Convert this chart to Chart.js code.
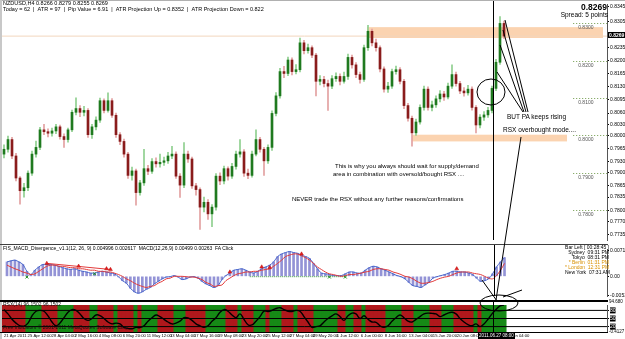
<!DOCTYPE html>
<html><head><meta charset="utf-8">
<script src="https://cdn.jsdelivr.net/npm/chart.js@4.4.1/dist/chart.umd.min.js"></script>
<style>
html,body{margin:0;padding:0;background:#fff;}
#wrap{position:relative;width:625px;height:339px;overflow:hidden;background:#fff;font-family:"Liberation Sans",Arial,sans-serif;}
canvas{position:absolute;left:0;}
.t{position:absolute;white-space:nowrap;color:#000;line-height:1;}
.sep{position:absolute;background:#000;}
</style></head><body>
<div id="wrap">
<canvas id="cMain" width="625" height="244" style="top:0;width:625px;height:244px"></canvas>
<canvas id="cMacd" width="625" height="57" style="top:244px;width:625px;height:57px"></canvas>
<canvas id="cRsx" width="625" height="38" style="top:301px;width:625px;height:38px"></canvas>

<div class="sep" style="left:0;top:0;width:625px;height:1px;background:#b0b0b0"></div>
<div class="sep" style="left:0;top:0;width:2px;height:339px;background:#c8c8c8"></div>
<div class="sep" style="left:0;top:244px;width:608px;height:1px;background:#404040"></div>
<div class="sep" style="left:0;top:300px;width:608px;height:2px"></div>
<div class="sep" style="left:0;top:332px;width:608px;height:1px"></div>

<div class="t" style="left:3px;top:1px;font-size:5.5px">NZDUSD,H4 0.8266 0.8279 0.8255 0.8269</div>
<div class="t" style="left:3px;top:7px;font-size:5.5px">Today = 62 &nbsp;| &nbsp;ATR = 97 &nbsp;| &nbsp;Pip Value = 6.91 &nbsp;| &nbsp;ATR Projection Up = 0.8352 &nbsp;| &nbsp;ATR Projection Down = 0.822</div>
<div class="t" style="right:18px;top:3px;font-size:8.5px;font-weight:bold">0.8269</div>
<div class="t" style="right:17px;top:12px;font-size:6.5px">Spread: 5 points</div>

<div class="t" style="left:335px;top:163px;font-size:6px">This is why you always should wait for supply/demand</div>
<div class="t" style="left:333px;top:171px;font-size:6px">area in combination with oversold/bought RSX ....</div>
<div class="t" style="left:292px;top:196px;font-size:6px">NEVER trade the RSX without any further reasons/confirmations</div>
<div class="t" style="left:507px;top:114px;font-size:6.5px">BUT PA keeps rising</div>
<div class="t" style="left:503px;top:127px;font-size:6.5px">RSX overbought mode....</div>

<div class="t" style="left:3px;top:246px;font-size:5px">FIS_MACD_Divergence_v1.1(12, 26, 9) 0.004996 0.002617 &nbsp;MACD(12,26,9) 0.00499 0.00263 &nbsp;FA Click</div>
<div class="t" style="left:565px;top:245px;font-size:5px;text-align:right;width:44px;line-height:5px">
Bar Left [ 00:28:45 ]<br>Sydney &nbsp;09:31 PM<br>Tokyo &nbsp;08:31 PM<br><span style="color:#d89000">* Berlin &nbsp;01:31 PM</span><br><span style="color:#d89000">* London &nbsp;12:31 PM</span><br>New York &nbsp;07:31 AM</div>
<div class="t" style="left:3px;top:302px;font-size:5px;color:#111">RSX(14) 96.1502 96.1502</div>
<div class="t" style="left:3px;top:325px;font-size:5px;color:#111">Free Indicators &copy; 2001-2011 MetaQuotes Software Corp.</div>
<div class="t" style="left:609px;top:300px;font-size:4.5px">94.680</div>
<div class="t" style="left:609px;top:330px;font-size:4.5px">-0.4127</div>
<div class="t" style="left:478px;top:333px;font-size:4.5px;background:#000;color:#fff;padding:0.5px 1px">2011.06.27 08:00</div>

<svg width="625" height="339" style="position:absolute;left:0;top:0" fill="none" stroke="#000" stroke-width="1">
<ellipse cx="491" cy="92" rx="14" ry="13"/>
<line x1="497" y1="72" x2="523" y2="112"/>
<line x1="500" y1="45" x2="524" y2="112"/>
<line x1="503" y1="30" x2="526" y2="112"/>
<line x1="505" y1="20" x2="528" y2="112"/>
<line x1="521" y1="137" x2="496" y2="300"/>
<line x1="482" y1="280" x2="497" y2="301"/>
<line x1="503" y1="297" x2="522" y2="290"/>
<ellipse cx="499" cy="303" rx="19" ry="8"/>
</svg>
</div>
<script>
// ---------- DATA (prices in pips: value/10000) ----------
const candleOpen = [7950,7963,7989,7945,7886,7852,7860,7899,7950,7968,
8015,8010,8006,8012,8023,7997,7989,8015,8062,8072,
8062,8067,8002,8023,8041,8093,8067,8093,8054,8002,
7984,7950,7893,7905,7847,7873,7911,7904,7930,7924,
7928,7932,7945,7950,7891,7867,7950,7937,7865,7855,
7808,7821,7790,7808,7891,7878,7911,7891,7917,7950,
7956,7899,7893,7950,7989,7963,7932,7968,8059,8106,
8171,8166,8202,8171,8176,8248,8227,8235,8215,8145,
8150,8139,8132,8152,8158,8145,8158,8209,8189,8163,
8150,8235,8279,8248,8235,8178,8124,8132,8171,8176,
8145,8080,8046,8007,8036,8075,8124,8075,8082,8098,
8111,8103,8132,8163,8139,8119,8114,8124,8075,8028,
8049,8055,8067,8126,8196,8300];
const candleHigh = [7975,7998,7995,7952,7890,7872,7905,7958,7985,8022,
8030,8018,8020,8030,8028,8004,8020,8068,8101,8080,
8078,8072,8030,8050,8100,8098,8114,8099,8060,8008,
7990,7955,7915,7910,7880,7963,7920,7938,7940,7950,
7942,7955,7971,7956,7898,7981,7958,7942,7872,7860,
7835,7828,7815,7898,7900,7918,7916,7925,7958,7989,
7962,7910,7958,8015,7995,7968,7975,8066,8115,8180,
8185,8210,8208,8190,8261,8255,8245,8240,8220,8160,
8158,8148,8160,8168,8165,8170,8218,8215,8195,8170,
8242,8295,8285,8258,8240,8184,8142,8178,8186,8182,
8150,8086,8052,8044,8082,8132,8130,8092,8106,8120,
8118,8140,8189,8170,8145,8128,8134,8130,8080,8056,
8064,8075,8132,8204,8318,8306];
const candleLow = [7940,7955,7938,7878,7816,7835,7852,7893,7942,7962,
8002,7996,7998,8005,7990,7968,7982,8010,8055,8050,
8052,7995,7992,8015,8035,8060,8062,8048,7995,7975,
7942,7885,7880,7813,7840,7866,7895,7898,7915,7915,
7920,7925,7938,7885,7834,7860,7928,7858,7840,7748,
7795,7775,7756,7800,7868,7870,7880,7885,7910,7942,
7890,7884,7888,7945,7955,7893,7925,7960,8052,8100,
8155,8160,8162,8165,8170,8218,8220,8208,8106,8135,
8130,8067,8125,8145,8135,8140,8150,8180,8155,8140,
8145,8228,8240,8226,8170,8116,8115,8126,8164,8138,
8072,8038,7971,8000,8030,8068,8068,8066,8075,8090,
8094,8098,8126,8132,8112,8105,8108,8068,8007,8020,
8040,8048,8060,8120,8190,8260];
const candleClose = [7963,7989,7945,7886,7852,7860,7899,7950,7968,8015,
8010,8006,8012,8023,7997,7989,8015,8062,8072,8062,
8067,8002,8023,8041,8093,8067,8093,8054,8002,7984,
7950,7893,7905,7847,7873,7911,7904,7930,7924,7928,
7932,7945,7950,7891,7867,7950,7937,7865,7855,7808,
7821,7790,7808,7891,7878,7911,7891,7917,7950,7956,
7899,7893,7950,7989,7963,7932,7968,8059,8106,8171,
8166,8202,8171,8176,8248,8227,8235,8215,8145,8150,
8139,8132,8152,8158,8145,8158,8209,8189,8163,8150,
8235,8279,8248,8235,8178,8124,8132,8171,8176,8145,
8080,8046,8007,8036,8075,8124,8075,8082,8098,8111,
8103,8132,8163,8139,8119,8114,8124,8075,8028,8049,
8055,8067,8126,8196,8300,8266];
// MACD values in units of 1e-4
const macdHist = [40,43,45,40,33,14,5,17,26,33,
33,33,31,28,24,21,19,21,17,14,
12,9,9,12,14,12,9,7,-1,-12,
-19,-33,-43,-47,-43,-36,-31,-21,-14,-7,
-2,-1,2,-2,-9,-7,-2,-1,-5,-14,
-21,-26,-31,-26,-9,2,9,17,19,21,
17,12,9,14,21,26,31,40,55,62,
66,69,66,64,59,55,50,36,21,9,
7,5,2,2,2,7,12,12,9,9,
17,24,28,26,21,17,12,7,2,-1,
-7,-17,-26,-28,-31,-24,-17,-5,-1,2,
5,9,14,14,12,12,9,5,-5,-14,
-12,-7,7,26,40,52];
const macdSignal = [31,26,21,17,12,9,5,7,14,21,
28,31,31,28,28,26,24,24,21,21,
19,17,17,14,14,12,12,9,5,0,
-7,-12,-19,-24,-28,-31,-28,-26,-19,-14,
-7,-5,0,0,0,-1,-2,-2,-5,-9,
-17,-21,-28,-26,-24,-12,-5,2,7,9,
12,12,14,14,17,19,21,28,36,45,
55,59,62,62,57,52,45,36,26,19,
12,7,5,2,0,2,5,5,7,9,
12,14,19,21,21,19,17,12,9,5,
0,-2,-7,-14,-19,-19,-17,-14,-9,-5,
-2,0,5,9,12,12,12,9,7,5,
0,-5,-7,2,17,36];
const macdUpArrows = [[10,36],[18,28],[25,21],[26,19],[56,12],[64,26],[66,24],[74,62],[113,21]];
const macdDownArrows = [[5,-2],[22,7],[81,-2],[85,-2]];
const rsxValues = [83,67,47,33,23,22,33,60,77,80,
77,60,37,23,33,53,73,83,80,67,
50,43,50,63,61,50,37,30,33,30,
17,13,12,17,16,23,40,53,63,57,
47,37,30,33,40,53,52,43,30,23,
17,23,40,53,73,83,77,63,53,67,
47,27,26,40,57,77,76,80,87,90,
83,77,76,80,77,57,37,17,20,23,
37,50,60,67,57,43,60,70,67,50,
60,47,37,36,23,17,23,40,53,63,
53,40,37,47,57,67,70,69,67,57,
63,70,73,67,50,37,27,23,30,20,
30,47,67,83,97,100];
const rsxLevels = [80,50,20];
const priceTicks = [0.8345,0.8305,0.8235,0.8200,0.8165,0.8130,0.8095,0.8060,0.8030,0.8000,0.7965,0.7930,0.7900,0.7865,0.7835,0.7800,0.7770,0.7735];
const roundLevels = [0.8300,0.8200,0.8100,0.8000,0.7900,0.7800];
const bidPrice = 0.8266;
const lastPrice = 0.8269;
const zones = [{from:90.75,to:149.75,hi:0.8290,lo:0.8261},{from:102,to:140.75,hi:0.8002,lo:0.7984}];
const crossBar = 122.25;
const timeLabels = ["21 Apr 2011","25 Apr 12:00","28 Apr 04:00","2 May 16:00","4 May 08:00","6 May 20:00","11 May 12:00","13 May 04:00","17 May 16:00","19 May 08:00","23 May 20:00","25 May 12:00","27 May 04:00","29 May 20:00","1 Jun 12:00","6 Jun 00:00","8 Jun 16:00","13 Jun 04:00","15 Jun 20:00","20 Jun 08:00","23 Jun 00:00","28 Jun 04:00"];
const timeLabelBars = [0,5.9,11.9,17.7,23.7,29.7,35.7,41.5,47.5,53.5,59.5,65.5,71.5,77.2,83.2,89.2,95.2,101.2,107.2,113.2,119,125.3];
const macdAxis = [0.00712,0,-0.0053];
const rsxAxis = [80,50,20];

// ---------- CHARTS ----------
const X_MIN = -0.5, X_MAX = 150.75;
const F = "'Liberation Sans', Arial, sans-serif";
Chart.defaults.font.family = F;
Chart.defaults.animation = false;
const P = v => v/10000;
const idx = candleClose.map((_, i) => i);
const bull = i => candleClose[i] >= candleOpen[i];

const crossPlugin = {id:'cross', afterDatasetsDraw(c){
  const x = Math.round(c.scales.x.getPixelForValue(crossBar)) + 0.5, ctx = c.ctx;
  ctx.save(); ctx.strokeStyle = '#000'; ctx.lineWidth = 1;
  ctx.beginPath(); ctx.moveTo(x, 0); ctx.lineTo(x, c.chartArea.bottom); ctx.stroke(); ctx.restore();
}};
const zonePlugin = {id:'zones', beforeDatasetsDraw(c){
  const xs = c.scales.x, ys = c.scales.y, ctx = c.ctx;
  ctx.save(); ctx.fillStyle = '#fbd3b0';
  zones.forEach(z => {
    const x1 = xs.getPixelForValue(z.from), x2 = xs.getPixelForValue(z.to);
    const y1 = ys.getPixelForValue(z.hi), y2 = ys.getPixelForValue(z.lo);
    ctx.fillRect(x1, y1, x2 - x1, y2 - y1);
  });
  ctx.restore();
}};
const levelPlugin = {id:'levels', afterDatasetsDraw(c){
  const xs = c.scales.x, ys = c.scales.y, ctx = c.ctx;
  ctx.save();
  const x1 = xs.getPixelForValue(142.3), x2 = c.chartArea.right;
  roundLevels.forEach(p => {
    const y = Math.round(ys.getPixelForValue(p)) + 0.5;
    ctx.strokeStyle = '#6f9a4a'; ctx.setLineDash([1, 2]); ctx.lineWidth = 1;
    ctx.beginPath(); ctx.moveTo(x1, y); ctx.lineTo(x2, y); ctx.stroke();
    ctx.setLineDash([]); ctx.fillStyle = '#555'; ctx.font = '5px ' + F;
    ctx.textBaseline = 'top'; ctx.fillText(p.toFixed(4), x1 + 5, y + 2);
  });
  const y = ys.getPixelForValue(lastPrice);
  ctx.fillStyle = '#000'; ctx.fillRect(c.chartArea.right + 1, y - 3, 17, 6);
  ctx.fillStyle = '#fff'; ctx.font = 'bold 5px ' + F; ctx.textBaseline = 'middle';
  ctx.fillText(lastPrice.toFixed(4), c.chartArea.right + 2, y + 0.5);
  ctx.restore();
}};
const timeAxisPlugin = {id:'timeAxis', afterDraw(c){
  const xs = c.scales.x, ctx = c.ctx;
  ctx.save(); ctx.fillStyle = '#000'; ctx.font = '4.2px ' + F; ctx.textBaseline = 'top'; ctx.textAlign = 'left';
  timeLabelBars.forEach((v, i) => { ctx.fillText(timeLabels[i], xs.getPixelForValue(v), c.chartArea.bottom + 2); });
  ctx.restore();
}};

const xLinear = {type:'linear', min:X_MIN, max:X_MAX, offset:false, display:false};
const yRight = (extra) => Object.assign({position:'right', afterFit: s => { s.width = 18; },
  grid:{drawOnChartArea:false, tickLength:2, color:'#000'}, border:{display:true, color:'#555'},
  ticks:{font:{size:5}, color:'#000', padding:1, autoSkip:false}}, extra);

new Chart(document.getElementById('cMain'), {
  type:'bar',
  data:{datasets:[
    {type:'line', data:[{x:X_MIN,y:bidPrice},{x:X_MAX,y:bidPrice}], borderColor:'#f2d6bd', borderWidth:1, pointRadius:0, order:5},
    {label:'wick', data: idx.map(i => ({x:i, y:[P(candleLow[i]), P(candleHigh[i])]})),
      backgroundColor: idx.map(i => bull(i) ? '#8fcf8f' : '#e3a1a1'), barThickness:1, grouped:false, order:2},
    {label:'body', data: idx.map(i => ({x:i, y:[P(candleOpen[i]), P(candleClose[i])]})),
      backgroundColor: idx.map(i => bull(i) ? '#1f7a1f' : '#8a1c1c'), barThickness:2, minBarLength:1, grouped:false, order:1}
  ]},
  options:{responsive:false, animation:false, devicePixelRatio:1,
    layout:{padding:{left:2, top:0, bottom:0, right:0}},
    plugins:{legend:{display:false}, tooltip:{enabled:false}},
    scales:{x:xLinear,
      y:yRight({min:0.7720, max:0.8352,
        afterBuildTicks: s => { s.ticks = priceTicks.map(v => ({value:v})); },
        ticks:{font:{size:5}, color:'#000', padding:1, autoSkip:false, callback: v => v.toFixed(4)}})}
  },
  plugins:[zonePlugin, levelPlugin, crossPlugin]
});

const pts = arr => arr.map((v, i) => ({x:i, y:v/10000}));
new Chart(document.getElementById('cMacd'), {
  type:'bar',
  data:{datasets:[
    {data: pts(macdHist), backgroundColor:'#9393d6', barThickness:2, grouped:false, order:4},
    {type:'line', data: pts(macdHist), borderColor:'#4666cc', borderWidth:1, pointRadius:0, tension:0.3, order:3},
    {type:'line', data: pts(macdSignal), borderColor:'#e23a3a', borderWidth:1, pointRadius:0, tension:0.3, order:2},
    {type:'line', data:[macdUpArrows[0],macdUpArrows[3]].map(a => ({x:a[0], y:a[1]/10000})), borderColor:'#e23a3a', borderWidth:1, pointRadius:0, order:2},
    {type:'line', data:[{x:61,y:-0.0001},{x:85,y:-0.0001}], borderColor:'#3c9a3c', borderDash:[1,1], borderWidth:1, pointRadius:0, order:2},
    {type:'scatter', data: macdUpArrows.map(a => ({x:a[0], y:a[1]/10000})), pointStyle:'triangle', pointRadius:2.2, backgroundColor:'#e02020', borderColor:'#c01010', borderWidth:0.5, order:0},
    {type:'scatter', data: macdDownArrows.map(a => ({x:a[0], y:a[1]/10000})), pointStyle:'crossRot', pointRadius:2, borderColor:'#1a8a1a', borderWidth:1, order:0}
  ]},
  options:{responsive:false, animation:false, devicePixelRatio:1,
    layout:{padding:{left:2, top:1, bottom:1, right:0}},
    plugins:{legend:{display:false}, tooltip:{enabled:false}},
    scales:{x:xLinear,
      y:yRight({min:-0.00546, max:0.00759,
        afterBuildTicks: s => { s.ticks = macdAxis.map(v => ({value:v})); },
        ticks:{font:{size:5}, color:'#000', padding:1, autoSkip:false, callback: v => v === 0 ? '0.00' : String(v)}})}
  },
  plugins:[crossPlugin]
});

new Chart(document.getElementById('cRsx'), {
  type:'bar',
  data:{datasets:[
    {data: idx.map(i => ({x:i, y:[0,100]})),
      backgroundColor: idx.map(i => (i === 0 ? rsxValues[1] >= rsxValues[0] : rsxValues[i] >= rsxValues[i-1]) ? '#168a16' : '#b0181c'),
      barThickness:4.4, grouped:false, order:5},
    ...rsxLevels.map(l => ({type:'line', data:[{x:X_MIN,y:l},{x:X_MAX,y:l}], borderColor:'#000', borderWidth:1, pointRadius:0, order:2})),
    {type:'line', data: rsxValues.map((v, i) => ({x:i, y:v})), borderColor:'#000', borderWidth:1.4, pointRadius:0, tension:0.4, order:1}
  ]},
  options:{responsive:false, animation:false, devicePixelRatio:1,
    layout:{padding:{left:2, top:1, bottom:7, right:0}},
    plugins:{legend:{display:false}, tooltip:{enabled:false}},
    scales:{
      x:{type:'linear', min:X_MIN, max:X_MAX, offset:false, display:false},
      y:yRight({min:0, max:100,
        afterBuildTicks: s => { s.ticks = rsxAxis.map(v => ({value:v})); },
        ticks:{font:{size:5}, color:'#fff', padding:1, autoSkip:false, showLabelBackdrop:true, backdropColor:'#000', backdropPadding:0}})}
  },
  plugins:[crossPlugin, timeAxisPlugin]
});
</script>
</body></html>
